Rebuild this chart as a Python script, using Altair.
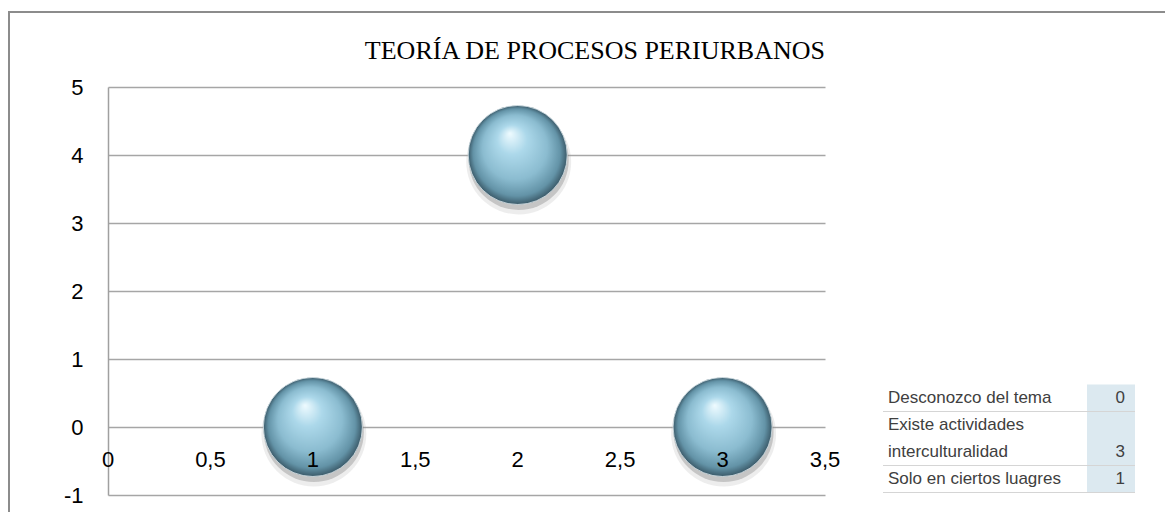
import altair as alt
import pandas as pd

# ---- data ----
x_vals = [1, 2, 3]
y_vals = [0, 4, 0]
table_labels = ["Desconozco del tema", "Existe actividades\ninterculturalidad", "Solo en ciertos luagres"]
table_values = [0, 3, 1]
x_ticks = [0, 0.5, 1, 1.5, 2, 2.5, 3, 3.5]
x_tick_labels = ["0", "0,5", "1", "1,5", "2", "2,5", "3", "3,5"]
y_ticks = [-1, 0, 1, 2, 3, 4, 5]
chart_title = "TEORÍA DE PROCESOS PERIURBANOS"

# ---- frames ----
pts = pd.DataFrame({"x": x_vals, "y": y_vals})
xlab_df = pd.DataFrame({"x": x_ticks, "label": x_tick_labels, "y": [0] * len(x_ticks)})

text_lines = []
val_rows = []
seps = []
start = 0
for lab, val in zip(table_labels, table_values):
    parts = lab.split("\n")
    for i, p in enumerate(parts):
        text_lines.append({"label": p, "line": start + i})
    n = len(parts)
    val_rows.append({"value": str(val), "line": start + n - 1})
    seps.append({"sep": start + n - 0.5})
    start += n
total_lines = start
lines_df = pd.DataFrame(text_lines)
vals_df = pd.DataFrame(val_rows)
sep_df = pd.DataFrame(seps)
bg_df = pd.DataFrame({"y0": [-0.5], "y1": [total_lines - 0.5]})

W, H = 717, 408
xscale = alt.Scale(domain=[0, 3.5], nice=False, zero=False)
yscale = alt.Scale(domain=[-1, 5], nice=False, zero=False)
tscale = alt.Scale(domain=[0, total_lines - 1], range=[311, 392], nice=False, zero=False)

FONT = "Liberation Sans"

border = alt.Chart(pd.DataFrame({"k": [0]})).mark_rect(
    filled=False, stroke="#8c8c8c", strokeWidth=2
).encode(
    x=alt.value(-99), x2=alt.value(1200), y=alt.value(-75), y2=alt.value(600)
)

title_layer = alt.Chart(pd.DataFrame({"t": [chart_title]})).mark_text(
    align="right", baseline="middle", font="Liberation Serif", fontSize=26, color="#000000"
).encode(
    x=alt.value(W), y=alt.value(-36), text="t:N"
)

shadow_outer = alt.Chart(pts).mark_circle(
    size=11000, color="#9a9a9a", opacity=0.18, yOffset=7, xOffset=1
).encode(
    x=alt.X("x:Q", scale=xscale, axis=None),
    y=alt.Y("y:Q", scale=yscale, axis=None),
)
shadow_inner = alt.Chart(pts).mark_circle(
    size=10000, color="#7a7a7a", opacity=0.35, yOffset=5, xOffset=1
).encode(
    x=alt.X("x:Q", scale=xscale, axis=None),
    y=alt.Y("y:Q", scale=yscale, axis=None),
)

sphere_fill = {
    "gradient": "radial",
    "x1": 0.42, "y1": 0.28, "r1": 0.0,
    "x2": 0.5, "y2": 0.5, "r2": 0.5,
    "stops": [
        {"offset": 0.0, "color": "#effbff"},
        {"offset": 0.3, "color": "#acd8ea"},
        {"offset": 0.65, "color": "#8bbcd0"},
        {"offset": 0.88, "color": "#6393a7"},
        {"offset": 1.0, "color": "#3b5a69"},
    ],
}

bubbles = alt.Chart(pts).mark_circle(
    size=9800, fill=sphere_fill, opacity=1, stroke="#d8e4ea", strokeWidth=0.8
).encode(
    x=alt.X("x:Q", scale=xscale, axis=None),
    y=alt.Y(
        "y:Q", scale=yscale,
        axis=alt.Axis(
            values=y_ticks, domain=True, domainColor="#a0a0a0", domainWidth=1.5,
            ticks=False, tickSize=0, grid=True, gridColor="#a6a6a6", gridWidth=1.5,
            labelPadding=25, labelFontSize=22, labelFont=FONT, labelColor="#000000",
            labelExpr="toString(datum.value)", title=None,
        ),
    ),
)

xlabels = alt.Chart(xlab_df).mark_text(
    align="center", baseline="middle", font=FONT, fontSize=22, color="#000000", dy=33
).encode(
    x=alt.X("x:Q", scale=xscale, axis=None),
    y=alt.Y("y:Q", scale=yscale, axis=None),
    text="label:N",
)

tbl_bg = alt.Chart(bg_df).mark_rect(color="#dce9f0").encode(
    x=alt.value(979), x2=alt.value(1027),
    y=alt.Y("y0:Q", scale=tscale, axis=None), y2="y1:Q",
)
tbl_sep = alt.Chart(sep_df).mark_rule(color="#d5d5d5", strokeWidth=1).encode(
    x=alt.value(775), x2=alt.value(1027),
    y=alt.Y("sep:Q", scale=tscale, axis=None),
)
tbl_lab = alt.Chart(lines_df).mark_text(
    align="left", baseline="middle", font=FONT, fontSize=17, color="#404040",
).encode(
    x=alt.value(780),
    y=alt.Y("line:Q", scale=tscale, axis=None),
    text="label:N",
)
tbl_val = alt.Chart(vals_df).mark_text(
    align="right", baseline="middle", font=FONT, fontSize=17, color="#404040",
).encode(
    x=alt.value(1017),
    y=alt.Y("line:Q", scale=tscale, axis=None),
    text="value:N",
)

chart = alt.layer(
    border, title_layer, shadow_outer, shadow_inner, bubbles, xlabels,
    tbl_bg, tbl_sep, tbl_lab, tbl_val
).resolve_scale(
    y="independent"
).properties(
    width=W, height=H,
    autosize=alt.AutoSizeParams(type="none"),
    padding={"left": 100, "top": 79, "right": 340, "bottom": 17},
    background="white",
).configure_view(stroke=None)

chart.save("out.html", embed_options={"renderer": "svg", "actions": False})
